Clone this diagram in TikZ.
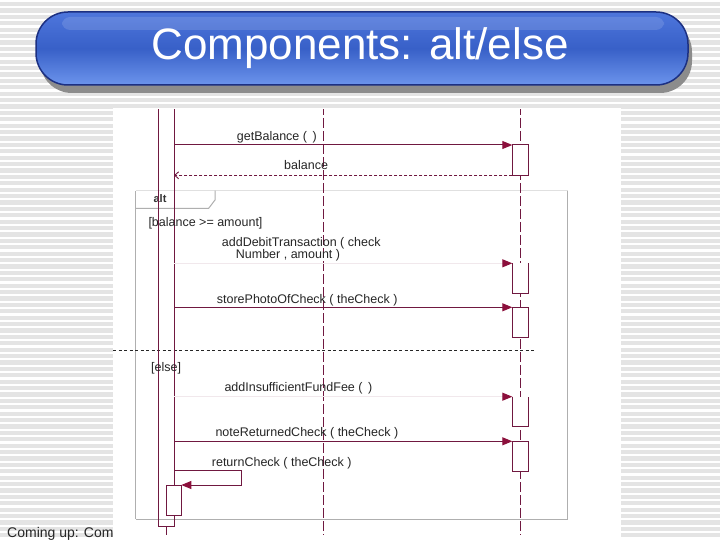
\documentclass[tikz,border=0pt]{standalone}
\usepackage{fontspec}
\setmainfont{Liberation Sans}
\usetikzlibrary{arrows.meta}
\definecolor{ln}{RGB}{112,24,64}
\definecolor{tipc}{RGB}{140,16,60}
\definecolor{stripe}{RGB}{228,228,228}
\definecolor{bnTop}{RGB}{78,118,220}
\definecolor{bnMid}{RGB}{56,96,200}
\definecolor{bnBot}{RGB}{108,148,236}
\definecolor{bnEdge}{RGB}{28,48,130}
\definecolor{framec}{RGB}{175,175,175}
\begin{document}
\begin{tikzpicture}[x=1pt,y=-1pt,
  lifeline/.style={draw=ln,line width=1pt,dash pattern=on 10pt off 3pt},
  actbox/.style={draw=ln,line width=1pt,fill=white,minimum width=16pt,inner sep=0pt,outer sep=0pt},
  openbox/.style={fill=white,minimum width=16pt,inner sep=0pt,outer sep=0pt},
  msg/.style={draw=ln,line width=1pt,-{Triangle[length=10pt,width=8pt,color=tipc]}},
  faintmsg/.style={draw=ln!10,line width=1pt,-{Triangle[length=10pt,width=8pt,color=tipc]}},
  retmsg/.style={draw=ln,line width=0.9pt,dash pattern=on 3pt off 2pt,-{Straight Barb[length=4pt,width=7pt]}},
  lbl/.style={anchor=base west,inner sep=0pt,text=black!85,font=\fontsize{12.5}{12.5}\selectfont},
  framebox/.style={draw=framec,line width=1pt}]
\useasboundingbox (0,0) rectangle (720,540);
% background stripes
\fill[white] (0,0) rectangle (720,540);
\foreach \i in {0,...,85} {\fill[stripe] (0,\i*6.4+2) rectangle (720,\i*6.4+6.2);}
% banner
\fill[black!45,rounded corners=32pt] (40,20) rectangle (692,93);
\draw[bnEdge,line width=1.5pt,rounded corners=32pt,top color=bnTop,bottom color=bnBot,middle color=bnMid] (36,12) rectangle (688,85);
\fill[white,opacity=0.13,rounded corners=8pt] (62,17) rectangle (664,30);
\node[anchor=base,inner sep=0pt,text=white,font=\fontsize{44}{44}\selectfont] (title) at (360,60) {Components: alt/else};
% footer text (partly covered by the panel)
\node[anchor=base west,inner sep=0pt,text=black!85,font=\fontsize{14}{14}\selectfont] (coming) at (7,537) {Coming up: Comp};
% panel
\fill[white] (113,108) rectangle (621,540);
\begin{scope}
\clip (113,110) rectangle (621,540);
% alt frame
\draw[framebox] (135.7,519) -- (135.7,190.7);
\draw[draw=black!12,line width=1pt] (135.7,190.7) -- (567.7,190.7);
\draw[framebox] (567.7,190.7) -- (567.7,519) -- (135.7,519);
\draw[framebox] (135.7,208.3) -- (208.7,208.3) -- (215,200) -- (215,190.7);
\node[anchor=base,inner sep=0pt,text=black!80,font=\bfseries\fontsize{11}{11}\selectfont] (altlbl) at (160,203) {alt};
% separator
\draw[black!85,line width=0.8pt,dash pattern=on 3pt off 2.5pt] (113,350.7) -- (534,350.7);
% lifelines
\coordinate (Btop) at (323.3,105);
\coordinate (Bbot) at (323.3,535);
\coordinate (Ctop) at (520.3,105);
\coordinate (Cbot) at (520.3,535);
\draw[lifeline] (Btop) -- (Bbot);
\draw[lifeline] (Ctop) -- (Cbot);
\node[actbox,fill=none,minimum height=421pt,anchor=north] (actA) at (166,105) {};
\coordinate (Aend) at (166,535);
\draw[ln,line width=1pt] (actA.south) -- (Aend);
% activation boxes on the right lifeline
\node[actbox,minimum height=30.3pt,anchor=north] (c1) at (520.3,145) {};
\node[openbox,minimum height=30pt,anchor=north] (c2) at (520.3,263.3) {};
\draw[ln,line width=1pt] (c2.north west) -- (c2.south west) -- (c2.south east) -- (c2.north east);
\node[actbox,minimum height=30pt,anchor=north] (c3) at (520.3,307.3) {};
\node[openbox,minimum height=29.3pt,anchor=north] (c4) at (520.3,396.7) {};
\draw[ln,line width=1pt] (c4.north west) -- (c4.south west) -- (c4.south east) -- (c4.north east);
\node[actbox,minimum height=29.7pt,anchor=north] (c5) at (520.3,441.3) {};
\node[actbox,minimum width=15.3pt,minimum height=30pt,anchor=north] (selfact) at (173.7,485) {};
% messages
\draw[msg] (actA.east |- c1.north) -- (c1.north west);
\node[lbl] (l1) at (236.7,140.5) {getBalance ( \,)};
\draw[retmsg] (c1.south west) -- (actA.east |- c1.south);
\node[lbl] (l2) at (284,170) {balance};
\node[lbl] (g1) at (148.3,226) {[balance >= amount]};
\draw[faintmsg] (actA.east |- c2.north) -- (c2.north west);
\node[lbl] (l3) at (221.7,246) {addDebitTransaction ( check};
\node[lbl] (l3b) at (235.7,258.5) {Number , amount )};
\draw[msg] (actA.east |- c3.north) -- (c3.north west);
\node[lbl] (l4) at (216.7,303.5) {storePhotoOfCheck ( theCheck )};
\node[lbl] (g2) at (151,371) {[else]};
\draw[faintmsg] (actA.east |- c4.north) -- (c4.north west);
\node[lbl] (l5) at (224.3,391.8) {addInsufficientFundFee ( \,)};
\draw[msg] (actA.east |- c5.north) -- (c5.north west);
\node[lbl] (l6) at (215.3,436.8) {noteReturnedCheck ( theCheck )};
\coordinate (rc1) at (241.3,470);
\coordinate (rc2) at (241.3,485);
\draw[msg] (actA.east |- rc1) -- (rc1) -- (rc2) -- (selfact.north east);
\node[lbl] (l7) at (211.7,466.8) {returnCheck ( theCheck )};
\end{scope}
\end{tikzpicture}
\end{document}
